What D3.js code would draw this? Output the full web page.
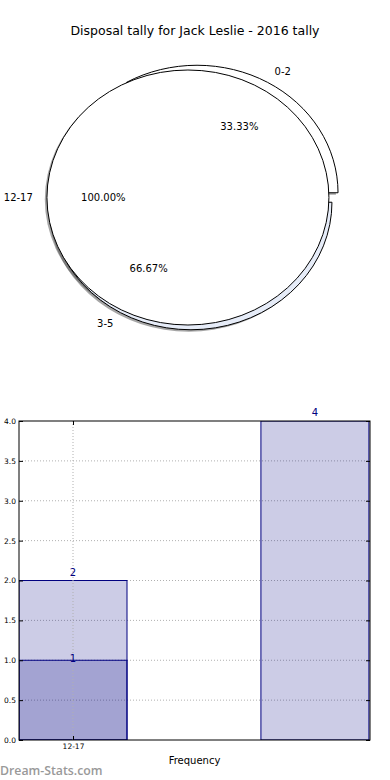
<!DOCTYPE html>
<html>
<head>
<meta charset="utf-8">
<script src="https://cdn.jsdelivr.net/npm/d3@7"></script>
<style>
  body { margin: 0; background: #fff; }
  svg { display: block; font-family: "DejaVu Sans", sans-serif; }
</style>
</head>
<body>
<div id="drawing"></div>
<script>
// pie data
const pieLabels = ["0-2", "3-5", "12-17"];
const pieValues = [1 / 3, 2 / 3, 1];
const piePct = ["33.33%", "66.67%", "100.00%"];
const pieColors = ["#ffffff", "#e6ecf8", "#ffffff"];

// bar data
const barLabels = ["12-17"];
const barStart = [0, 0, 2.24];   // left edge of each bar, x units
const barValues = [2, 1, 4];
const barSeries = ["light", "dark", "light"];
const yTicks = [0, 0.5, 1, 1.5, 2, 2.5, 3, 3.5, 4];

const width = 390;
const height = 780;

const svg = d3.select("#drawing").append("svg")
  .attr("width", width)
  .attr("height", height);

svg.append("text")
  .attr("x", 195).attr("y", 35)
  .attr("text-anchor", "middle")
  .style("font-size", "12.5px")
  .text("Disposal tally for Jack Leslie - 2016 tally");

// ---------- pie ----------
const cx = 194, cy = 197.5, rx = 141, ry = 127.5;
const explode = 0.043;

// matplotlib style: counter clockwise from 3 o'clock, values are fractions
// (sum is 2) so the pie goes round twice
const cum = Array.from(d3.cumsum(pieValues));
const arcs = pieValues.map((v, i) => ({
  startAngle: 2 * Math.PI * (cum[i] - v),
  endAngle: 2 * Math.PI * cum[i]
}));
const arc = d3.arc().innerRadius(0).outerRadius(1);

const pieG = svg.append("g");

function wedgePath(d) {
  return arc({startAngle: Math.PI / 2 - d.endAngle, endAngle: Math.PI / 2 - d.startAngle});
}
function mid(d) { return (d.startAngle + d.endAngle) / 2; }
function centre(d) {
  const m = mid(d);
  return [cx + explode * rx * Math.cos(m), cy - explode * ry * Math.sin(m)];
}

// shadows first, behind all wedges
arcs.forEach((d) => {
  const [x, y] = centre(d);
  pieG.append("path")
    .attr("transform", `translate(${x - 0.015 * rx},${y + 0.015 * ry}) scale(${rx},${ry})`)
    .attr("d", wedgePath(d))
    .attr("fill", "#4d4d4d")
    .attr("fill-opacity", 0.5);
});

arcs.forEach((d, i) => {
  const [x, y] = centre(d);
  pieG.append("path")
    .attr("transform", `translate(${x},${y}) scale(${rx},${ry})`)
    .attr("d", wedgePath(d))
    .attr("fill", pieColors[i])
    .attr("stroke", "#000")
    .attr("stroke-width", 1)
    .attr("vector-effect", "non-scaling-stroke");
});

arcs.forEach((d, i) => {
  const [x, y] = centre(d);
  const m = mid(d);
  const lx = x + 1.1 * rx * Math.cos(m);
  const ly = y - 1.1 * ry * Math.sin(m);
  pieG.append("text")
    .attr("x", lx).attr("y", ly)
    .attr("dy", "0.35em")
    .attr("text-anchor", Math.cos(m) > 0.01 ? "start" : "end")
    .style("font-size", "10px")
    .text(pieLabels[i]);
  pieG.append("text")
    .attr("x", x + 0.6 * rx * Math.cos(m))
    .attr("y", y - 0.6 * ry * Math.sin(m))
    .attr("dy", "0.35em")
    .attr("text-anchor", "middle")
    .style("font-size", "10px")
    .text(piePct[i]);
});

// ---------- bars ----------
const margin = {top: 421, left: 19, right: 20, bottom: 40};
const plotW = 370 - 19;
const plotH = 740 - 421;

const xScale = d3.scaleLinear().domain([0, 3.25]).range([0, plotW]);
const yScale = d3.scaleLinear().domain([0, 4]).range([plotH, 0]);

const barArea = svg.append("g")
  .attr("transform", `translate(${margin.left}, ${margin.top})`);

svg.append("defs").append("clipPath").attr("id", "plotclip")
  .append("rect").attr("width", plotW).attr("height", plotH);

const navy = "#000080";
const gridColor = "#b0b0b0";

// grid
barArea.append("g").selectAll("line").data(yTicks.slice(1, -1)).join("line")
  .attr("x1", 0).attr("x2", plotW)
  .attr("y1", (d) => yScale(d)).attr("y2", (d) => yScale(d))
  .attr("stroke", gridColor).attr("stroke-dasharray", "1,2");

const bars = barArea.append("g").attr("clip-path", "url(#plotclip)");
bars.selectAll("rect").data(barValues).join("rect")
  .attr("x", (d, i) => xScale(barStart[i]))
  .attr("y", (d) => yScale(d))
  .attr("width", xScale(1) - xScale(0))
  .attr("height", (d) => plotH - yScale(d))
  .attr("fill", navy)
  .attr("fill-opacity", 0.2)
  .attr("stroke", navy)
  .attr("stroke-width", 1);

// vertical grid on the category tick
barArea.append("g").selectAll("line").data(barLabels).join("line")
  .attr("x1", xScale(0.5)).attr("x2", xScale(0.5))
  .attr("y1", 0).attr("y2", plotH)
  .attr("stroke", gridColor).attr("stroke-dasharray", "1,2");

barArea.append("g").selectAll("text").data(barValues).join("text")
  .attr("x", (d, i) => xScale(barStart[i] + 0.5))
  .attr("y", (d, i) => yScale(d) + (barSeries[i] === "dark" ? 2 : -5))
  .attr("text-anchor", "middle")
  .attr("fill", navy)
  .style("font-size", "10px")
  .text((d) => d);

// frame
barArea.append("rect")
  .attr("width", plotW).attr("height", plotH)
  .attr("fill", "none").attr("stroke", "#000").attr("stroke-width", 1);

// axes, ticks pointing inwards
const yAxis = barArea.append("g")
  .call(d3.axisLeft(yScale).tickValues(yTicks).tickFormat(d3.format(".1f")).tickSizeInner(-4).tickSizeOuter(0).tickPadding(3));
const yAxisR = barArea.append("g")
  .attr("transform", `translate(${plotW},0)`)
  .call(d3.axisRight(yScale).tickValues(yTicks).tickFormat("").tickSizeInner(-4).tickSizeOuter(0));
const xAxis = barArea.append("g")
  .attr("transform", `translate(0,${plotH})`)
  .call(d3.axisBottom(xScale).tickValues([0.5]).tickFormat(() => barLabels[0]).tickSizeInner(-4).tickSizeOuter(0).tickPadding(4));
const xAxisT = barArea.append("g")
  .call(d3.axisTop(xScale).tickValues([0.5]).tickFormat("").tickSizeInner(-4).tickSizeOuter(0));

[yAxis, yAxisR, xAxis, xAxisT].forEach((a) => {
  a.select(".domain").remove();
  a.selectAll("text").style("font-size", "7.5px").style("font-family", "DejaVu Sans").attr("fill", "#000");
  a.selectAll("line").attr("stroke", "#000");
});

svg.append("text")
  .attr("x", margin.left + plotW / 2).attr("y", 764)
  .attr("text-anchor", "middle")
  .style("font-size", "10px")
  .text("Frequency");

svg.append("text")
  .attr("x", 0).attr("y", 775)
  .attr("fill", "#999")
  .style("font-family", "Open Sans")
  .style("font-weight", "600")
  .style("font-size", "12.3px")
  .text("Dream-Stats.com");
</script>
</body>
</html>
